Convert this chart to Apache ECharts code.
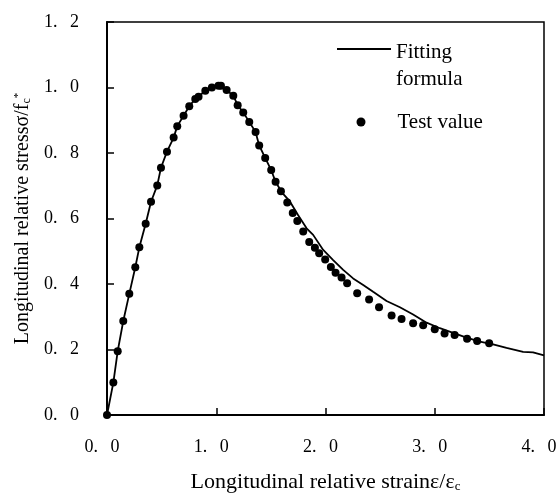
<!DOCTYPE html>
<html>
<head>
<meta charset="utf-8">
<script src="https://cdn.jsdelivr.net/npm/echarts@6/dist/echarts.min.js"></script>
<style>html,body{margin:0;padding:0;background:#fff}#c{width:556px;height:495px}</style>
</head>
<body>
<div id="c"></div>
<script>
// Test values (strain ratio, stress ratio)
var testStrain = [0,0.058,0.098,0.149,0.204,0.259,0.296,0.354,0.403,0.46,0.494,0.549,0.61,0.643,0.701,0.753,0.808,0.838,0.9,0.96,1.02,1.043,1.095,1.156,1.196,1.247,1.302,1.36,1.393,1.448,1.503,1.543,1.592,1.65,1.70,1.742,1.796,1.851,1.903,1.942,1.997,2.049,2.092,2.147,2.198,2.29,2.399,2.49,2.605,2.696,2.802,2.894,3.0,3.09,3.182,3.296,3.388,3.498];
var testStress = [0,0.099,0.195,0.287,0.37,0.451,0.512,0.584,0.651,0.701,0.755,0.804,0.847,0.882,0.914,0.943,0.965,0.972,0.99,1.0,1.005,1.005,0.992,0.975,0.946,0.924,0.895,0.864,0.823,0.785,0.748,0.712,0.683,0.649,0.617,0.592,0.560,0.528,0.511,0.494,0.475,0.452,0.434,0.420,0.402,0.372,0.353,0.329,0.304,0.293,0.280,0.274,0.262,0.249,0.244,0.233,0.226,0.219];
// Fitting formula curve
var fitStrain = [0,0.058,0.098,0.149,0.204,0.259,0.296,0.354,0.403,0.46,0.494,0.549,0.61,0.643,0.701,0.753,0.808,0.838,0.9,0.96,1.02,1.095,1.156,1.196,1.247,1.302,1.36,1.393,1.448,1.503,1.543,1.6,1.674,1.75,1.827,1.887,1.979,2.07,2.162,2.253,2.345,2.436,2.559,2.681,2.802,2.925,3.047,3.168,3.291,3.413,3.534,3.657,3.809,3.9,4.0];
var fitStress = [0,0.099,0.195,0.287,0.37,0.451,0.512,0.584,0.651,0.701,0.755,0.804,0.847,0.882,0.914,0.943,0.965,0.972,0.99,1.0,1.005,0.992,0.975,0.946,0.924,0.895,0.864,0.823,0.785,0.748,0.712,0.68,0.652,0.61,0.570,0.550,0.504,0.473,0.443,0.417,0.397,0.376,0.348,0.329,0.307,0.282,0.265,0.251,0.236,0.224,0.216,0.205,0.193,0.191,0.182];
var xTicks = [0,1,2,3,4];
var yTicks = [0,0.2,0.4,0.6,0.8,1.0,1.2];

function zip(a,b){var r=[];for(var i=0;i<a.length;i++)r.push([a[i],b[i]]);return r;}
function fmt(v){return v.toFixed(1).replace('.', '.  \u2009');}

var serif = '"Liberation Serif","Times New Roman",serif';
var chart = echarts.init(document.getElementById('c'), null, {renderer:'canvas'});
chart.setOption({
  animation:false,
  backgroundColor:'#fff',
  textStyle:{fontFamily:serif,color:'#000'},
  grid:{left:107,right:12,top:22,bottom:80,containLabel:false,outerBoundsMode:'none',show:true,borderColor:'#000',borderWidth:1.5,backgroundColor:'transparent'},
  xAxis:{
    type:'value',min:xTicks[0],max:xTicks[xTicks.length-1],interval:1,
    axisLine:{show:true,onZero:false,lineStyle:{color:'#000',width:2}},
    axisTick:{show:true,inside:true,length:7,lineStyle:{color:'#000',width:1.5}},
    splitLine:{show:false},
    axisLabel:{margin:23,fontSize:18,fontFamily:serif,color:'#000',formatter:fmt,padding:[0,10,0,0]},
    name:'Longitudinal relative strain\u03b5/\u03b5{sub|c}',
    nameLocation:'middle',nameGap:56,
    nameTextStyle:{fontSize:22,fontFamily:serif,color:'#000',
      rich:{sub:{fontSize:13,lineHeight:4,verticalAlign:'bottom',fontFamily:serif,color:'#000'}}}
  },
  yAxis:{
    type:'value',min:yTicks[0],max:yTicks[yTicks.length-1],interval:0.2,
    axisLine:{show:true,onZero:false,lineStyle:{color:'#000',width:2}},
    axisTick:{show:true,inside:true,length:7,lineStyle:{color:'#000',width:1.5}},
    splitLine:{show:false},
    axisLabel:{margin:28,fontSize:18,fontFamily:serif,color:'#000',formatter:fmt},
    name:'Longitudinal relative stress\u03c3/f{sub|c}{sup|*}',
    nameLocation:'middle',nameGap:72,nameRotate:90,
    nameTextStyle:{fontSize:20,fontFamily:serif,color:'#000',
      rich:{sub:{fontSize:12,lineHeight:4,verticalAlign:'bottom',fontFamily:serif,color:'#000'},
            sup:{fontSize:11,lineHeight:4,verticalAlign:'top',fontFamily:serif,color:'#000'}}}
  },
  legend:[
    {data:[{name:'Fitting formula',icon:'path://M0,0H54V2H0Z'}],left:337,top:11.5,padding:0,orient:'vertical',
     itemWidth:54,itemHeight:2,
     formatter:function(){return '{p| }\n{a|Fitting}\n{a|formula}';},
     textStyle:{fontSize:21,fontFamily:serif,color:'#000',
       rich:{p:{fontSize:21,lineHeight:33,fontFamily:serif,color:'#000'},
             a:{fontSize:21,lineHeight:27,fontFamily:serif,color:'#000'}}}},
    {data:[{name:'Test value',icon:'circle'}],left:356.5,top:111.5,padding:0,orient:'vertical',
     itemWidth:9,itemHeight:9,
     formatter:function(n){return '{t|'+n+'}';},
     textStyle:{fontSize:21,fontFamily:serif,color:'#000',
       rich:{t:{fontSize:21,lineHeight:27,padding:[0,0,0,27],fontFamily:serif,color:'#000'}}}}
  ],
  series:[
    {name:'Fitting formula',type:'line',data:zip(fitStrain,fitStress),showSymbol:false,symbol:'none',
     lineStyle:{color:'#000',width:1.8},itemStyle:{color:'#000'},z:2},
    {name:'Test value',type:'scatter',data:zip(testStrain,testStress),symbol:'circle',symbolSize:8,
     itemStyle:{color:'#000',opacity:1},z:3}
  ]
});
</script>
</body>
</html>
